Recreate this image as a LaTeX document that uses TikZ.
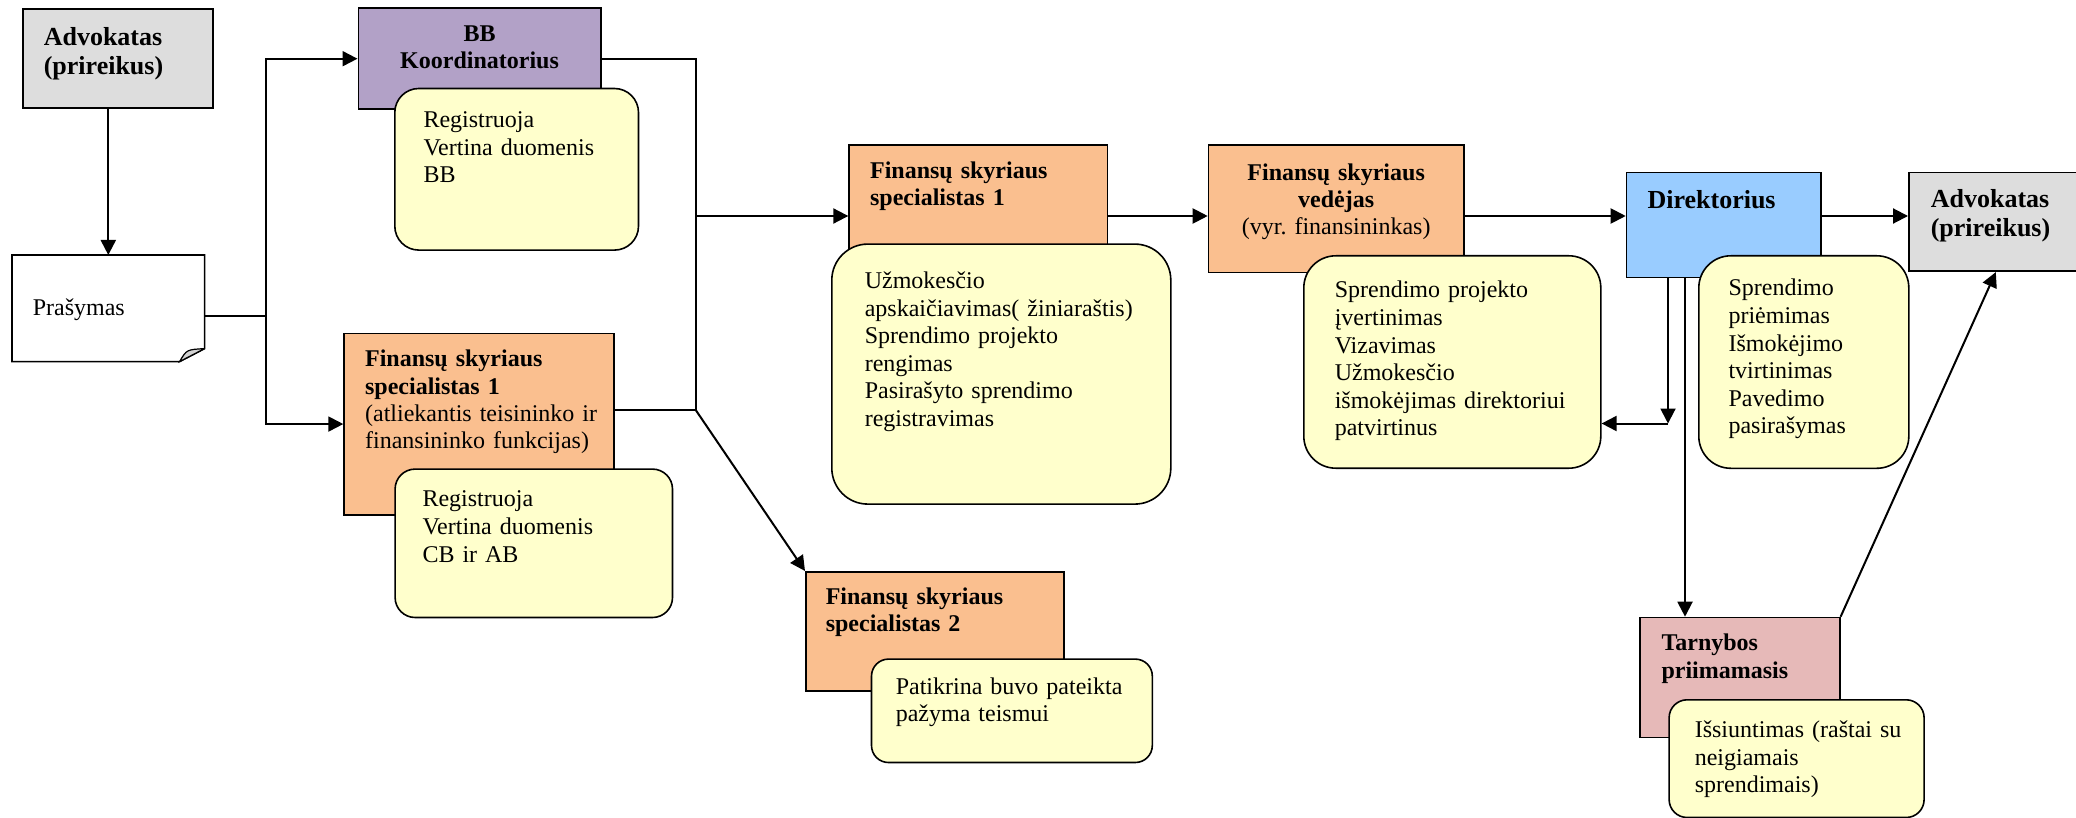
\documentclass[tikz,border=0pt]{standalone}
\usepackage{fontspec}
\setmainfont{Liberation Serif}
\usetikzlibrary{arrows.meta}
\definecolor{advgray}{RGB}{221,221,221}
\definecolor{bbpurple}{RGB}{178,161,199}
\definecolor{finorange}{RGB}{250,191,143}
\definecolor{noteyellow}{RGB}{255,255,204}
\definecolor{dirblue}{RGB}{153,204,255}
\definecolor{tarnpink}{RGB}{230,185,184}

\tikzset{
  box/.style={draw, line width=0.8pt, anchor=north west, inner ysep=0pt, align=left,
    font=\fontsize{12}{13.6}\selectfont},
  dims/.style n args={4}{inner xsep=#1, text width=#2, text height=#3, text depth=#4},
  role/.style={box, fill=finorange, font=\fontsize{12}{13.6}\selectfont\bfseries},
  boss/.style={box, font=\fontsize{13}{14.5}\selectfont\bfseries},
  note/.style={box, fill=noteyellow, font=\fontsize{12}{13.8}\selectfont},
  link/.style={line width=1pt},
  flow/.style={link, -{Triangle[length=7.5pt,width=7.5pt]}},
}

\begin{document}
\begin{tikzpicture}[x=0.5pt, y=-0.5pt]
    \useasboundingbox (0,0) rectangle (2076,818);

    % Request document
    \node[box, draw=none, dims={10pt}{75.5pt}{30pt}{22.5pt}] (prasymas) at (12,255) {Prašymas};
    \draw[line width=0.8pt] (prasymas.north west) -- (prasymas.north east)
        -- ([yshift=6.5pt]prasymas.south east) -- ([xshift=-12.5pt]prasymas.south east)
        -- (prasymas.south west) -- cycle;
    \filldraw[fill=gray!35, line width=0.6pt] ([yshift=6.5pt]prasymas.south east)
        -- ([xshift=-12.5pt]prasymas.south east)
        .. controls ([xshift=-9pt,yshift=6pt]prasymas.south east) .. ([yshift=6.5pt]prasymas.south east);

    % Roles
    \node[boss, fill=advgray, dims={10.5pt}{74pt}{18.5pt}{31pt}] (adv1) at (22,8) {Advokatas\\(prireikus)};
    \node[role, fill=bbpurple, align=center, dims={10pt}{101.25pt}{16.6pt}{33.8pt}] (bb) at (357.5,7.5) {BB\\Koordinatorius};
    \node[role, dims={10.5pt}{114pt}{16.75pt}{74pt}] (spec1L) at (343.3,332.5)
        {Finansų skyriaus\\specialistas 1\\\mdseries \mbox{(atliekantis teisininko ir}\\finansininko funkcijas)};
    \node[role, dims={10.5pt}{108.2pt}{16.85pt}{55.15pt}] (spec1M) at (848.3,144) {Finansų skyriaus\\specialistas 1};
    \node[role, align=center, dims={10pt}{107.65pt}{17.65pt}{46.2pt}] (ved) at (1207.7,144)
        {Finansų skyriaus\\vedėjas\\\mdseries (vyr.\ finansininkas)};
    \node[role, dims={10pt}{109pt}{16.15pt}{43.35pt}] (spec2) at (805,571) {Finansų skyriaus\\specialistas 2};
    \node[boss, fill=dirblue, dims={10.5pt}{76.15pt}{18pt}{34.5pt}] (dir) at (1625.7,171.7) {Direktorius};
    \node[boss, fill=advgray, dims={11pt}{65pt}{17.65pt}{31.75pt}] (adv2) at (1908,171.7) {Advokatas\\(prireikus)};
    \node[role, fill=tarnpink, dims={10.85pt}{78.3pt}{16.65pt}{43.35pt}] (tarn) at (1639,616.7) {Tarnybos\\priimamasis};

    % Tasks
    \node[note, rounded corners=12pt, dims={14.35pt}{93.15pt}{19.5pt}{61.3pt}] (bbnote) at (394,87.7)
        {Registruoja\\Vertina duomenis\\BB};
    \node[note, rounded corners=10pt, dims={13.7pt}{111.3pt}{18.85pt}{55.35pt}] (cbnote) at (394.3,468.3)
        {Registruoja\\Vertina duomenis\\CB ir AB};
    \node[note, rounded corners=18pt, dims={16.5pt}{136.5pt}{22.2pt}{107.8pt}] (calcnote) at (831,243.3)
        {Užmokesčio\\\mbox{apskaičiavimas( žiniaraštis)}\\Sprendimo projekto\\rengimas\\Pasirašyto sprendimo\\registravimas};
    \node[note, rounded corners=16pt, dims={15.5pt}{117.5pt}{21pt}{85.2pt}] (vednote) at (1303,255)
        {Sprendimo projekto\\įvertinimas\\Vizavimas\\Užmokesčio\\\mbox{išmokėjimas direktoriui}\\patvirtinus};
    \node[note, rounded corners=16pt, dims={14.85pt}{75.3pt}{20pt}{86.25pt}] (dirnote) at (1698,255)
        {Sprendimo\\priėmimas\\Išmokėjimo\\tvirtinimas\\Pavedimo\\pasirašymas};
    \node[note, rounded corners=9pt, dims={12.85pt}{101.8pt}{18.85pt}{40pt}] (tarnnote) at (1668.3,699)
        {\mbox{Išsiuntimas (raštai su}\\neigiamais\\sprendimais)};
    \node[note, rounded corners=8.5pt, dims={12.15pt}{116.1pt}{17.5pt}{34.2pt}] (checknote) at (870.7,658.3)
        {\mbox{Patikrina buvo pateikta}\\pažyma teismui};

    % Junctions
    \coordinate (split) at (266,316);
    \coordinate (join) at (695.7,410);
    \coordinate (row) at (0,216);
    \coordinate (d1) at (1668,423.5);
    \coordinate (d2) at (1685,0);

    % Flow
    \draw[flow] (adv1.south -| prasymas.north) -- (prasymas.north);
    \draw[link] (prasymas.east |- split) -- (split);
    \draw[flow] (split) |- (bb.west);
    \draw[flow] (split) |- (spec1L.west);
    \draw[link] (bb.east) -| (join);
    \draw[link] (spec1L.east |- join) -- (join);
    \draw[flow] (join |- row) -- (spec1M.west |- row);
    \draw[flow] (join) -- (spec2.north west);
    \draw[flow] (spec1M.east |- row) -- (ved.west |- row);
    \draw[flow] (ved.east |- row) -- (dir.west |- row);
    \draw[flow] (dir.east |- row) -- (adv2.west |- row);
    \draw[flow] (dir.south -| d1) -- (d1);
    \draw[flow] (d1) -- (vednote.east |- d1);
    \draw[flow] (dir.south -| d2) -- (tarn.north -| d2);
    \draw[flow] (tarn.north east) -- (adv2.south);
\end{tikzpicture}
\end{document}
